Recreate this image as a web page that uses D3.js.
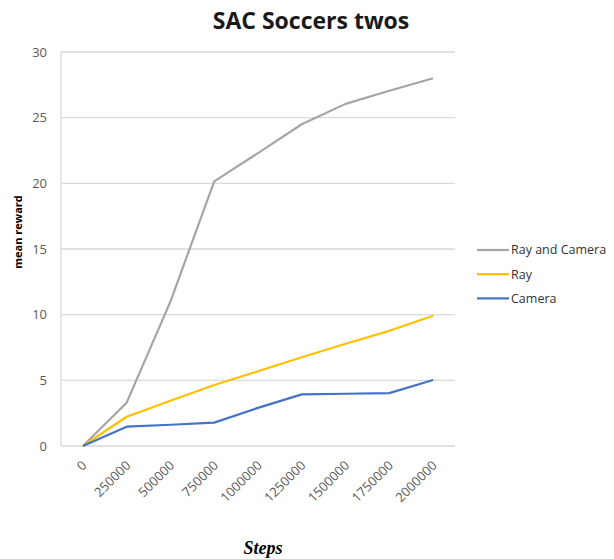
<!DOCTYPE html>
<html>
<head>
<meta charset="utf-8">
<script src="https://cdn.jsdelivr.net/npm/d3@7"></script>
<style>
  body { margin: 0; background: #fff; }
  svg { font-family: "Open Sans", sans-serif; }
</style>
</head>
<body>
<svg id="chart"></svg>
<script>
const steps = ["0", "250000", "500000", "750000", "1000000", "1250000", "1500000", "1750000", "2000000"]
const rayAndCamera = [0, 3.3, 11.0, 20.15, 22.3, 24.5, 26.05, 27.05, 28.0]
const ray = [0, 2.23, 3.45, 4.65, 5.69, 6.76, 7.78, 8.77, 9.92]
const camera = [0, 1.47, 1.62, 1.78, 2.9, 3.93, 3.98, 4.03, 5.03]
const yTicks = [0, 5, 10, 15, 20, 25, 30]

const series = [
  { name: "Ray and Camera", values: rayAndCamera, color: "#a5a5a5" },
  { name: "Ray", values: ray, color: "#ffc000" },
  { name: "Camera", values: camera, color: "#4472c4" }
]

var svgWidth = 614, svgHeight = 559
var margin = { top: 52, right: 159, bottom: 113, left: 61 }
var width = svgWidth - margin.left - margin.right
var height = svgHeight - margin.top - margin.bottom

const svg = d3.select("#chart")
  .attr("width", svgWidth)
  .attr("height", svgHeight)

const g = svg.append("g")
  .attr("transform", "translate(" + margin.left + "," + margin.top + ")")

const x = d3.scalePoint().domain(steps).range([0, width]).padding(0.5)
const y = d3.scaleLinear().domain([0, 30]).range([height, 0])

// gridlines
g.append("g")
  .selectAll("line")
  .data(yTicks)
  .join("line")
  .attr("x1", 0)
  .attr("x2", width)
  .attr("y1", d => y(d))
  .attr("y2", d => y(d))
  .attr("stroke", "#d9d9d9")
  .attr("stroke-width", 1.3)

g.append("line")
  .attr("x1", 0).attr("x2", 0)
  .attr("y1", 0).attr("y2", height)
  .attr("stroke", "#d9d9d9")
  .attr("stroke-width", 1.3)

// y axis labels
const yAxis = g.append("g")
  .call(d3.axisLeft(y).tickValues(yTicks).tickSize(0).tickPadding(14))
yAxis.select(".domain").remove()
yAxis.selectAll("text")
  .attr("fill", "#595959")
  .style("font-size", "13px")
  .style("font-family", "Open Sans, sans-serif")

// x axis labels
const xAxis = g.append("g")
  .attr("transform", "translate(0," + height + ")")
  .call(d3.axisBottom(x).tickSize(0))
xAxis.select(".domain").remove()
xAxis.selectAll("text")
  .attr("fill", "#595959")
  .style("font-size", "13px")
  .style("font-family", "Open Sans, sans-serif")
  .attr("text-anchor", "end")
  .attr("dy", "0.35em")
  .attr("transform", "translate(1,17) rotate(-45)")
  .attr("y", 0)

const line = d3.line()
  .x((d, i) => x(steps[i]))
  .y(d => y(d))

g.selectAll(".series")
  .data(series)
  .join("path")
  .attr("class", "series")
  .attr("fill", "none")
  .attr("stroke", d => d.color)
  .attr("stroke-width", 2.2)
  .attr("stroke-linejoin", "round")
  .attr("d", d => line(d.values))

// legend
const legend = svg.append("g")
  .attr("transform", "translate(477,250)")
const item = legend.selectAll("g")
  .data(series)
  .join("g")
  .attr("transform", (d, i) => "translate(0," + i * 24.2 + ")")
item.append("line")
  .attr("x1", 0).attr("x2", 32)
  .attr("stroke", d => d.color)
  .attr("stroke-width", 2.2)
item.append("text")
  .attr("x", 34)
  .attr("dy", "0.35em")
  .attr("fill", "#333")
  .style("font-size", "12.5px")
  .text(d => d.name)

// title
svg.append("text")
  .attr("x", 311)
  .attr("y", 29)
  .attr("text-anchor", "middle")
  .attr("fill", "#1a1a1a")
  .style("font-size", "23px")
  .style("font-weight", "bold")
  .text("SAC Soccers twos")

// y label
svg.append("text")
  .attr("transform", "translate(22,232) rotate(-90)")
  .attr("text-anchor", "middle")
  .attr("fill", "#000")
  .style("font-size", "11px")
  .style("font-weight", "bold")
  .text("mean reward")

// x label
svg.append("text")
  .attr("x", 263)
  .attr("y", 554)
  .attr("text-anchor", "middle")
  .attr("fill", "#000")
  .style("font-family", "Liberation Serif, serif")
  .style("font-size", "18px")
  .style("font-weight", "bold")
  .style("font-style", "italic")
  .text("Steps")
</script>
</body>
</html>
